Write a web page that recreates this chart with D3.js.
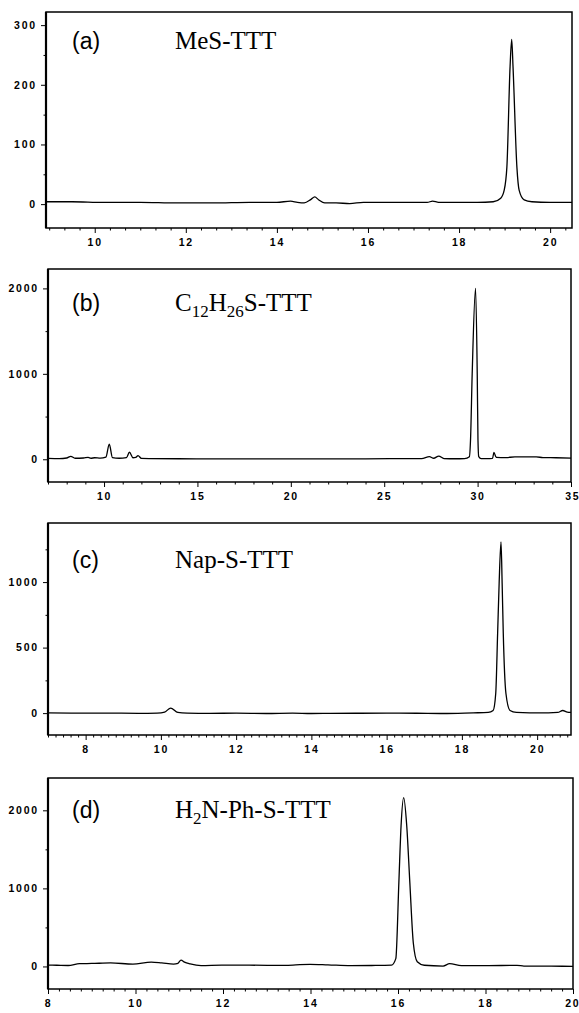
<!DOCTYPE html>
<html>
<head>
<meta charset="utf-8">
<script src="https://cdn.jsdelivr.net/npm/d3@7"></script>
<style>
  body { margin: 0; background: #fff; }
  svg { display: block; }
  .tick text { font-family: "Liberation Sans", Arial, sans-serif; font-weight: bold; font-size: 10.5px; letter-spacing: 1.8px; fill: #000; }
  .trace { fill: none; stroke: #000; stroke-width: 1.3px; stroke-linejoin: round; }
  .frame { fill: none; stroke: #000; stroke-width: 1.5px; }
  .tag { font-family: "Liberation Sans", Arial, sans-serif; font-size: 23px; }
  .name { font-family: "Liberation Serif", "Times New Roman", serif; font-size: 25px; }
</style>
</head>
<body>
<svg id="chart" width="579" height="1013"></svg>
<script>
'use strict';

// panel (a) MeS-TTT
const time_a = [8.93, 9.5, 10.2, 11.0, 11.8, 12.6, 13.4, 14.0, 14.3, 14.45, 14.6, 14.75, 14.83, 14.92, 15.05, 15.3, 15.6, 15.9, 16.2, 16.8, 17.3, 17.42, 17.55, 17.9, 18.4, 18.75, 18.915, 18.99, 19.05, 19.12, 19.156, 19.185, 19.27, 19.32, 19.43, 19.6, 20.0, 20.48];
const signal_a = [4, 4, 3, 3, 2, 2, 3, 3, 5, 3, 2, 8, 12, 7, 2, 2, 1, 3, 3, 3, 3, 5, 3, 3, 3, 4, 10, 23, 62, 230, 276, 230, 62, 23, 7, 4, 3, 3];

// panel (b) C12H26S-TTT
const time_b = [7.0, 7.6, 8.0, 8.22, 8.45, 8.9, 9.15, 9.3, 9.5, 9.8, 10.1, 10.28, 10.45, 10.8, 11.2, 11.36, 11.55, 11.7, 11.82, 12.0, 12.5, 14, 16, 18, 20, 22, 24, 26.2, 27.0, 27.42, 27.65, 27.92, 28.2, 28.8, 29.3, 29.56, 29.62, 29.71, 29.89, 29.98, 30.02, 30.06, 30.19, 30.5, 30.8, 30.87, 31.0, 31.5, 32.0, 33.14, 33.5, 34.2, 35];
const signal_b = [10, 8, 15, 35, 12, 15, 22, 12, 18, 14, 25, 176, 20, 12, 20, 82, 18, 22, 43, 10, 8, 6, 5, 5, 4, 5, 5, 8, 8, 30, 12, 38, 8, 6, 8, 30, 222, 1000, 2001, 1000, 222, 30, 8, 8, 10, 79, 22, 20, 27, 27, 20, 18, 14];

// panel (c) Nap-S-TTT
const time_c = [7.0, 7.8, 8.6, 9.4, 9.9, 10.1, 10.26, 10.45, 10.7, 11.3, 12.0, 12.8, 13.5, 14.0, 14.5, 15.2, 16.0, 16.8, 17.5, 18.3, 18.7, 18.83, 18.90, 18.95, 18.99, 19.04, 19.07, 19.10, 19.17, 19.28, 19.45, 19.8, 20.3, 20.55, 20.68, 20.8, 20.9];
const signal_c = [2, 0, 0, -2, 0, 8, 38, 5, 0, -2, 0, -3, 0, -3, -2, -1, 0, -1, -3, 2, 5, 20, 152, 609, 990, 1307, 990, 609, 152, 20, 5, 2, 2, 5, 20, 8, 5];

// panel (d) H2N-Ph-S-TTT
const time_d = [8.0, 8.2, 8.46, 8.72, 9.0, 9.43, 9.94, 10.36, 10.6, 10.87, 10.97, 11.04, 11.12, 11.25, 11.5, 11.97, 12.6, 13.23, 13.6, 13.99, 14.4, 14.92, 15.4, 15.85, 15.95, 16.02, 16.07, 16.13, 16.2, 16.27, 16.35, 16.44, 16.6, 17.03, 17.18, 17.45, 18.0, 18.72, 18.88, 19.5, 20.0];
const signal_d = [17, 15, 12, 35, 38, 45, 30, 55, 45, 30, 40, 82, 55, 32, 10, 17, 16, 14, 18, 27, 20, 10, 12, 17, 100, 1080, 1800, 2163, 1800, 1080, 300, 60, 15, 5, 35, 10, 10, 14, 5, 3, 2];

// axis ticks
const xticks_a = [10, 12, 14, 16, 18, 20];
const yticks_a = [0, 100, 200, 300];
const xticks_b = [10, 15, 20, 25, 30, 35];
const yticks_b = [0, 1000, 2000];
const xticks_c = [8, 10, 12, 14, 16, 18, 20];
const yticks_c = [0, 500, 1000];
const xticks_d = [8, 10, 12, 14, 16, 18, 20];
const yticks_d = [0, 1000, 2000];

const panels = [
  { tag: '(a)', name: [['MeS-TTT', 0]], time: time_a, signal: signal_a,
    xdom: [8.93, 20.48], ydom: [-40, 322], box: [46, 572, 12, 228],
    xticks: xticks_a, yticks: yticks_a, xminor: 1 / 3, yminor: 50, tagY: 49 },
  { tag: '(b)', name: [['C', 0], ['12', 1], ['H', 0], ['26', 1], ['S-TTT', 0]], time: time_b, signal: signal_b,
    xdom: [7, 35], ydom: [-266, 2227], box: [48, 571, 269, 482],
    xticks: xticks_b, yticks: yticks_b, xminor: 1, yminor: 500, tagY: 311 },
  { tag: '(c)', name: [['Nap-S-TTT', 0]], time: time_c, signal: signal_c,
    xdom: [7, 20.9], ydom: [-167, 1451], box: [48, 571, 523, 735],
    xticks: xticks_c, yticks: yticks_c, xminor: 0.2, yminor: 250, tagY: 568 },
  { tag: '(d)', name: [['H', 0], ['2', 1], ['N-Ph-S-TTT', 0]], time: time_d, signal: signal_d,
    xdom: [8, 20], ydom: [-289, 2414], box: [48, 573, 778, 989],
    xticks: xticks_d, yticks: yticks_d, xminor: 0.25, yminor: 500, tagY: 818 }
];

const svg = d3.select('#chart');
svg.append('rect').attr('width', 579).attr('height', 1013).attr('fill', '#fff');

function minor_values(dom, step, major) {
  const start = Math.ceil(dom[0] / step - 1e-6) * step;
  return d3.range(start, dom[1] + 1e-6, step)
    .filter(v => !major.some(m => Math.abs(m - v) < 1e-6));
}

for (const p of panels) {
  const [left, right, top, bottom] = p.box;
  const x = d3.scaleLinear().domain(p.xdom).range([left, right]);
  const y = d3.scaleLinear().domain(p.ydom).range([bottom, top]);
  const g = svg.append('g');

  // minor ticks
  g.append('g').attr('transform', `translate(0,${bottom})`)
    .call(d3.axisBottom(x).tickValues(minor_values(p.xdom, p.xminor, p.xticks)).tickSize(2.5).tickFormat(''))
    .call(a => a.select('.domain').remove());
  g.append('g').attr('transform', `translate(${left},0)`)
    .call(d3.axisLeft(y).tickValues(minor_values(p.ydom, p.yminor, p.yticks)).tickSize(2.5).tickFormat(''))
    .call(a => a.select('.domain').remove());

  // major ticks
  const xaxis = g.append('g').attr('transform', `translate(0,${bottom})`)
    .call(d3.axisBottom(x).tickValues(p.xticks).tickSize(5).tickPadding(6).tickFormat(d3.format('d')))
    .call(a => a.select('.domain').remove());
  g.append('g').attr('transform', `translate(${left},0)`)
    .call(d3.axisLeft(y).tickValues(p.yticks).tickSize(5).tickPadding(4).tickFormat(d3.format('d')))
    .call(a => a.select('.domain').remove());

  // keep the last x label inside the page edge
  xaxis.selectAll('.tick text').filter(d => x(d) > 565).attr('text-anchor', 'end').attr('x', 579 - x(p.xticks[p.xticks.length - 1]) + 1);

  g.selectAll('.tick line').attr('stroke', '#000').attr('stroke-width', 1);

  // frame
  g.append('rect').attr('class', 'frame')
    .attr('x', left).attr('y', top)
    .attr('width', right - left).attr('height', bottom - top);
  g.append('line').attr('x1', left).attr('x2', left).attr('y1', top).attr('y2', bottom)
    .attr('stroke', '#000').attr('stroke-width', 2.2);

  // chromatogram
  const pts = p.time.map((t, i) => [t, p.signal[i]]);
  g.append('path').attr('class', 'trace')
    .attr('d', d3.line().x(d => x(d[0])).y(d => y(d[1])).curve(d3.curveMonotoneX)(pts));

  // labels
  g.append('text').attr('class', 'tag').attr('x', 72).attr('y', p.tagY).text(p.tag);
  const name = g.append('text').attr('class', 'name').attr('x', 175).attr('y', p.tagY);
  let shifted = false;
  for (const [txt, sub] of p.name) {
    const span = name.append('tspan').text(txt);
    if (sub && !shifted) { span.attr('dy', 6).attr('font-size', 17); shifted = true; }
    else if (!sub && shifted) { span.attr('dy', -6); shifted = false; }
    else if (sub) { span.attr('font-size', 17); }
  }
}
</script>
</body>
</html>
